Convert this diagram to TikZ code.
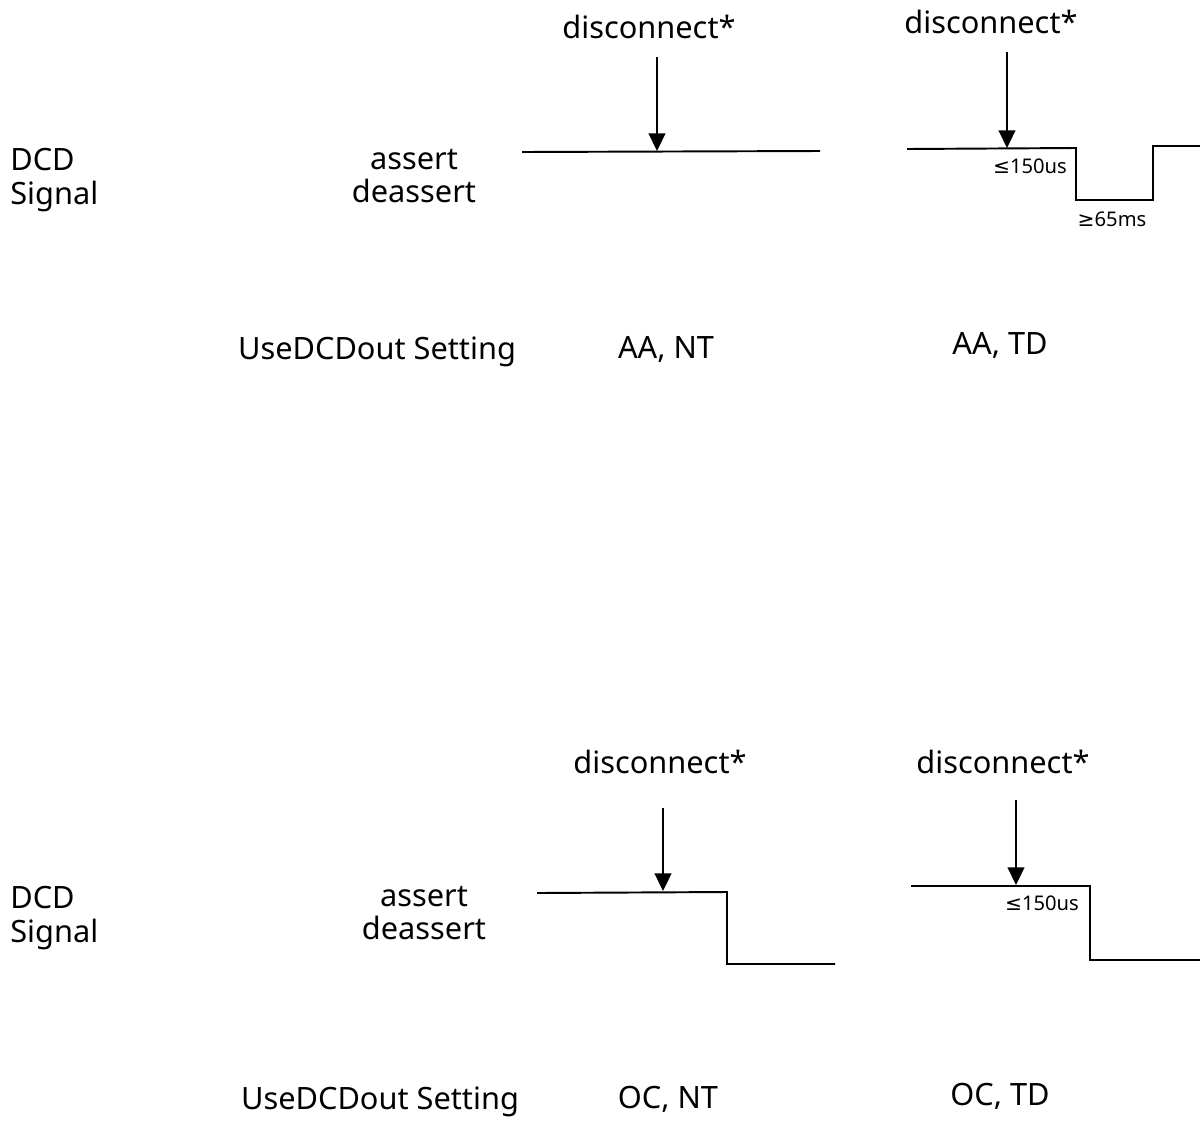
\documentclass[tikz,border=0pt]{standalone}
\usepackage{fontspec}
\setmainfont{Noto Sans}
\newfontfamily\symfont{DejaVu Sans}
\usetikzlibrary{arrows.meta}

\begin{document}
\begin{tikzpicture}[x=0.02cm,y=-0.02cm,
  lbl/.style={font=\fontsize{17.5}{19}\selectfont, inner sep=0pt},
  small/.style={font=\fontsize{11.5}{13}\selectfont, inner sep=0pt},
  wave/.style={line width=1.1pt, line join=miter},
  hit/.style={-{Triangle[length=10pt,width=9.5pt]}, line width=1pt}]
\useasboundingbox (0,0) rectangle (1200,1123);

% upper half
\node[lbl, anchor=west, align=left] (dcdA) at (10,180) {DCD\\Signal};
\node[lbl, align=center] (levA) at (414,176) {assert\\deassert};
\node[lbl] (setA) at (377,352) {UseDCDout Setting};
\node[lbl] (aant) at (666,349) {AA, NT};
\node[lbl] (aatd) at (1000,345) {AA, TD};

\node[lbl] (discA) at (649,27) {disconnect*};
\coordinate (topA) at (657,57);
\coordinate (hitA) at (657,151);
\draw[wave] (522,152) -- (820,151);
\draw[hit] (topA) -- (hitA);

\node[lbl] (discB) at (991,22) {disconnect*};
\coordinate (topB) at (1007,52);
\coordinate (hitB) at (1007,148);
\draw[wave] (907,149) -- (1076,148) -- (1076,200) -- (1153,200) -- (1153,146) -- (1200,146);
\draw[hit] (topB) -- (hitB);
\node[small] (tB) at (1030,166) {{\symfont ≤}150us};
\node[small] (wB) at (1112,219) {{\symfont ≥}65ms};

% lower half
\node[lbl, anchor=west, align=left] (dcdC) at (10,918) {DCD\\Signal};
\node[lbl, align=center] (levC) at (424,913) {assert\\deassert};
\node[lbl] (setC) at (380,1102) {UseDCDout Setting};
\node[lbl] (ocnt) at (668,1099) {OC, NT};
\node[lbl] (octd) at (1000,1096) {OC, TD};

\node[lbl] (discC) at (660,762) {disconnect*};
\coordinate (topC) at (663,808);
\coordinate (hitC) at (663,891);
\draw[wave] (537,893) -- (727,892) -- (727,964) -- (835,964);
\draw[hit] (topC) -- (hitC);

\node[lbl] (discD) at (1003,762) {disconnect*};
\coordinate (topD) at (1016,800);
\coordinate (hitD) at (1016,885);
\draw[wave] (911,886) -- (1090,886) -- (1090,960) -- (1200,960);
\draw[hit] (topD) -- (hitD);
\node[small] (tD) at (1042,903) {{\symfont ≤}150us};
\end{tikzpicture}
\end{document}
